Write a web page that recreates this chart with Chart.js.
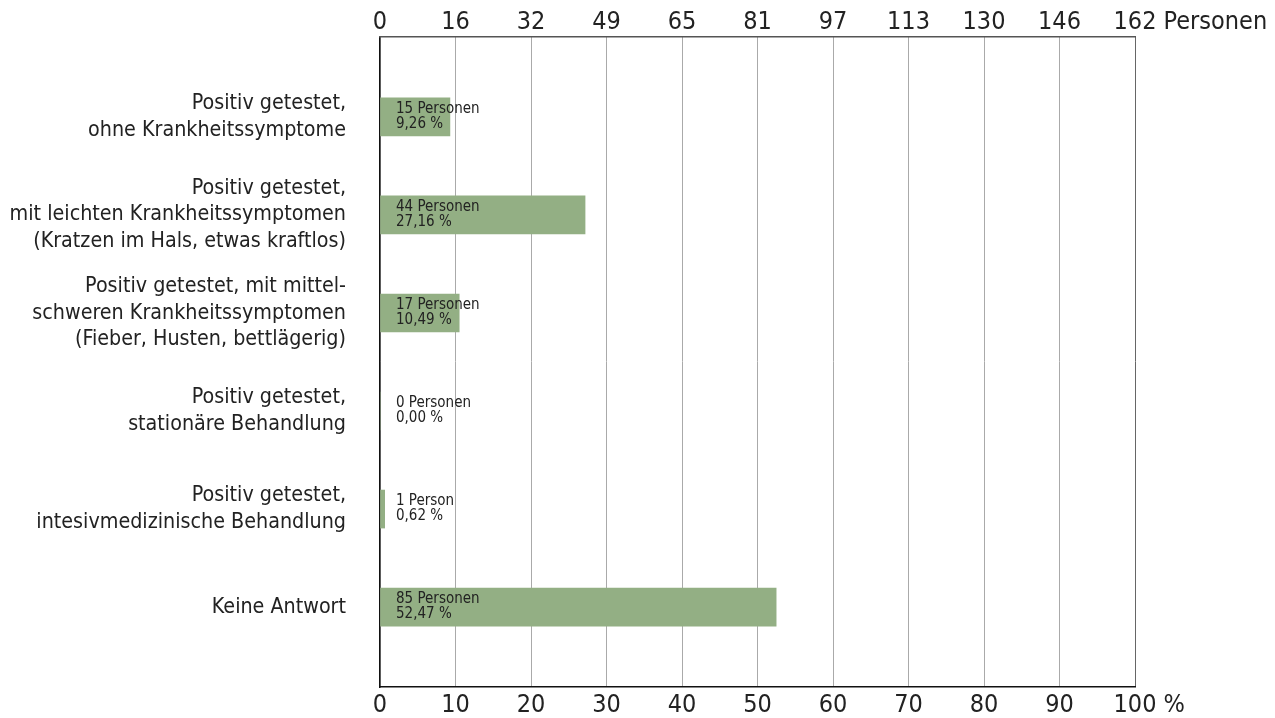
<!DOCTYPE html>
<html>
<head>
<meta charset="utf-8">
<script src="https://cdn.jsdelivr.net/npm/chart.js@4/dist/chart.umd.min.js"></script>
<style>
  html, body { margin: 0; padding: 0; background: #fff; }
  #wrap { width: 1275px; height: 718px; position: relative; }
</style>
</head>
<body>
<div id="wrap"><canvas id="c" width="1275" height="718"></canvas></div>
<script>
const categories = [
  ['Positiv getestet,', 'ohne Krankheitssymptome'],
  ['Positiv getestet,', 'mit leichten Krankheitssymptomen', '(Kratzen im Hals, etwas kraftlos)'],
  ['Positiv getestet, mit mittel-', 'schweren Krankheitssymptomen', '(Fieber, Husten, bettlägerig)'],
  ['Positiv getestet,', 'stationäre Behandlung'],
  ['Positiv getestet,', 'intesivmedizinische Behandlung'],
  ['Keine Antwort']
];
const percentValues = [9.26, 27.16, 10.49, 0.00, 0.62, 52.47];
const personCounts = [15, 44, 17, 0, 1, 85];
const percentTickLabels = ['0', '10', '20', '30', '40', '50', '60', '70', '80', '90', '100'];
const personTickLabels = ['0', '16', '32', '49', '65', '81', '97', '113', '130', '146', '162'];
const percentUnit = ' %';
const personUnit = ' Personen';

const FONT = "'Liberation Sans Narrow', 'DejaVu Sans Condensed', 'Liberation Sans', sans-serif";
const TEXT = '#222';

const barLabelPlugin = {
  id: 'barLabels',
  afterDatasetsDraw(chart) {
    const ctx = chart.ctx;
    const meta = chart.getDatasetMeta(0);
    ctx.save();
    ctx.font = "15px " + FONT;
    ctx.fillStyle = TEXT;
    ctx.textAlign = 'left';
    ctx.textBaseline = 'middle';
    meta.data.forEach((bar, i) => {
      const x = chart.chartArea.left + 16;
      const n = personCounts[i];
      const l1 = n + (n === 1 ? ' Person' : ' Personen');
      const l2 = percentValues[i].toFixed(2).replace('.', ',') + ' %';
      ctx.fillText(l1, x, bar.y - 8);
      ctx.fillText(l2, x, bar.y + 7);
    });
    ctx.restore();
  }
};

const unitPlugin = {
  id: 'units',
  afterDraw(chart) {
    const ctx = chart.ctx;
    [['x', percentUnit], ['x2', personUnit]].forEach(([id, unit]) => {
      const scale = chart.scales[id];
      const items = scale.getLabelItems();
      const last = items[items.length - 1];
      const o = last.options;
      ctx.save();
      ctx.font = last.font.string;
      ctx.fillStyle = TEXT;
      ctx.textBaseline = o.textBaseline;
      ctx.textAlign = 'left';
      const w = ctx.measureText(last.label).width;
      const [tx, ty] = o.translation;
      ctx.fillText(unit, tx + w / 2, ty + (last.textOffset || 0));
      ctx.restore();
    });
  }
};

new Chart(document.getElementById('c'), {
  type: 'bar',
  data: {
    datasets: [{
      data: percentValues.map((v, i) => ({ x: v, y: i })),
      backgroundColor: '#93af84',
      borderWidth: 0,
      barThickness: 38
    }]
  },
  options: {
    indexAxis: 'y',
    responsive: false,
    animation: false,
    layout: { padding: { left: 0, right: 140, top: 0, bottom: 0 } },
    plugins: { legend: { display: false }, tooltip: { enabled: false } },
    scales: {
      y: {
        type: 'linear',
        reverse: true,
        offset: false,
        min: -0.815,
        max: 5.815,
        grid: { display: false, drawTicks: false, offset: false },
        border: { display: true, color: '#111', width: 1.5 },
        ticks: {
          stepSize: 1,
          includeBounds: false,
          autoSkip: false,
          padding: 34,
          color: TEXT,
          font: { family: FONT, size: 21.3, lineHeight: 1.24 },
          callback: (v) => Number.isInteger(v) ? categories[v] : ''
        },
        afterFit(scale) { scale.width = 380; scale.paddingTop = 0; scale.paddingBottom = 0; }
      },
      x: {
        type: 'linear',
        position: 'bottom',
        min: 0,
        max: 100,
        grid: {
          drawTicks: false,
          color: (c) => c.tick && c.tick.value === 100 ? '#666' : '#aaa',
          lineWidth: 1
        },
        border: { display: true, color: '#111', width: 1.5 },
        ticks: {
          stepSize: 10,
          autoSkip: false,
          maxRotation: 0,
          padding: 3,
          color: TEXT,
          font: { family: FONT, size: 25 },
          callback: (v, i) => percentTickLabels[i]
        },
        afterFit(scale) { scale.height = 31; scale.paddingLeft = 0; scale.paddingRight = 0; }
      },
      x2: {
        type: 'linear',
        position: 'top',
        min: 0,
        max: 100,
        grid: { display: false, drawTicks: false },
        border: { display: true, color: '#555', width: 1.5 },
        ticks: {
          stepSize: 10,
          autoSkip: false,
          maxRotation: 0,
          padding: 0,
          color: TEXT,
          font: { family: FONT, size: 25 },
          callback: (v, i) => personTickLabels[i]
        },
        afterFit(scale) { scale.height = 37; scale.paddingLeft = 0; scale.paddingRight = 0; }
      }
    }
  },
  plugins: [barLabelPlugin, unitPlugin]
});
</script>
</body>
</html>
